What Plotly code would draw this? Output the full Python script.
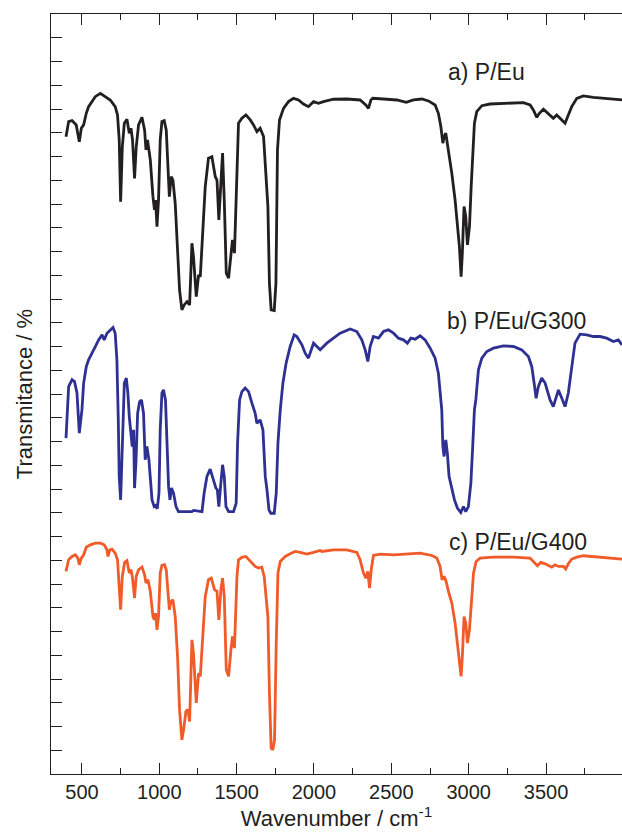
import plotly.graph_objects as go

# ---- data (wavenumber in cm^-1, offset transmittance in tick units) ----
wn_a = [397, 414, 436, 463, 483, 496, 511, 528, 543, 565, 586, 619, 640, 662, 683, 715, 730, 741, 750, 761,
        774, 791, 806, 817, 827, 840, 851, 866, 888, 905, 914, 924, 942, 959, 969, 976, 985, 995, 1006, 1017,
        1032, 1045, 1056, 1065, 1077, 1088, 1103, 1118, 1131, 1146, 1161, 1179, 1196, 1211, 1221, 1239, 1254,
        1265, 1282, 1297, 1318, 1340, 1362, 1373, 1385, 1398, 1409, 1420, 1433, 1448, 1463, 1473, 1486, 1502,
        1512, 1534, 1560, 1588, 1609, 1631, 1652, 1674, 1689, 1702, 1712, 1723, 1743, 1754, 1764, 1777, 1803,
        1835, 1867, 1900, 1932, 1964, 1997, 2029, 2061, 2126, 2212, 2298, 2335, 2352, 2368, 2380, 2449, 2536,
        2596, 2643, 2697, 2740, 2783, 2804, 2820, 2833, 2841, 2852, 2865, 2891, 2912, 2930, 2940, 2951, 2959,
        2970, 2981, 2992, 3005, 3016, 3027, 3037, 3052, 3085, 3138, 3246, 3354, 3397, 3418, 3440, 3457, 3483,
        3515, 3547, 3569, 3591, 3623, 3644, 3666, 3699, 3741, 3806, 3870, 3935, 3991]
tr_a = [26.83, 27.47, 27.51, 27.33, 26.62, 27.19, 27.33, 27.82, 28.10, 28.31, 28.52, 28.66, 28.56, 28.45, 28.38,
        28.10, 27.75, 26.70, 24.10, 26.41, 27.40, 27.57, 26.98, 27.19, 26.70, 25.08, 26.41, 27.33, 27.65, 27.12,
        26.28, 26.70, 25.85, 24.31, 23.75, 24.17, 23.05, 24.17, 26.70, 27.47, 27.51, 27.12, 25.85, 24.31, 25.15,
        25.01, 24.03, 22.21, 20.38, 19.54, 19.75, 19.89, 19.75, 22.35, 21.78, 20.10, 21.01, 20.94, 22.77, 24.73,
        25.93, 25.99, 25.15, 25.01, 23.33, 25.01, 26.14, 24.17, 21.09, 20.88, 21.93, 22.49, 21.93, 25.57, 27.40,
        27.61, 27.75, 27.54, 27.33, 27.05, 27.19, 26.84, 25.29, 23.89, 20.66, 19.54, 19.51, 20.66, 26.28, 27.54,
        28.03, 28.31, 28.45, 28.38, 28.21, 28.10, 28.31, 28.24, 28.31, 28.41, 28.42, 28.38, 28.17, 28.03, 28.38,
        28.45, 28.42, 28.38, 28.28, 28.38, 28.42, 28.34, 28.17, 27.82, 27.26, 26.56, 26.83, 26.98, 26.41, 25.29,
        24.17, 23.05, 22.21, 20.94, 21.93, 23.89, 23.47, 22.28, 23.05, 24.73, 26.28, 27.40, 27.89, 28.14, 28.21,
        28.24, 28.27, 28.17, 27.96, 27.65, 27.82, 27.99, 27.82, 27.61, 27.75, 27.61, 27.40, 27.75, 28.10, 28.45,
        28.55, 28.49, 28.45, 28.41, 28.38]

wn_b = [397, 414, 436, 452, 468, 483, 500, 511, 528, 543, 565, 586, 608, 630, 644, 662, 683, 701, 715, 726, 735,
        741, 750, 759, 774, 787, 797, 806, 817, 825, 834, 840, 849, 860, 873, 885, 898, 909, 920, 933, 953, 967,
        976, 987, 998, 1006, 1017, 1027, 1040, 1049, 1060, 1069, 1079, 1092, 1108, 1124, 1211, 1221, 1276, 1290,
        1308, 1329, 1351, 1366, 1375, 1385, 1396, 1409, 1420, 1431, 1448, 1480, 1497, 1506, 1519, 1534, 1555,
        1577, 1599, 1620, 1631, 1652, 1670, 1685, 1696, 1709, 1721, 1743, 1756, 1767, 1782, 1799, 1820, 1846,
        1872, 1889, 1922, 1943, 1964, 1997, 2040, 2083, 2126, 2169, 2234, 2277, 2309, 2331, 2348, 2363, 2384,
        2417, 2449, 2481, 2514, 2546, 2578, 2604, 2626, 2654, 2686, 2718, 2751, 2783, 2804, 2820, 2826, 2833,
        2841, 2852, 2862, 2873, 2891, 2908, 2927, 2949, 2966, 2981, 2998, 3014, 3027, 3037, 3046, 3063, 3085,
        3117, 3160, 3224, 3289, 3343, 3386, 3408, 3423, 3436, 3450, 3472, 3494, 3526, 3547, 3565, 3580, 3602,
        3623, 3644, 3666, 3687, 3720, 3763, 3806, 3849, 3892, 3935, 3967, 3991]
tr_b = [14.14, 16.31, 16.60, 16.52, 16.04, 14.35, 15.33, 16.46, 17.15, 17.44, 17.72, 18.00, 18.28, 18.49, 18.28,
        18.56, 18.70, 18.80, 18.56, 17.44, 14.91, 12.53, 11.54, 13.23, 16.46, 16.67, 16.04, 15.05, 14.35, 13.79,
        14.49, 12.04, 13.09, 15.19, 15.68, 15.75, 15.19, 13.23, 13.79, 13.23, 11.54, 11.26, 11.30, 11.17, 11.83,
        14.49, 16.04, 16.18, 15.75, 14.35, 12.10, 11.54, 12.04, 11.83, 11.26, 11.05, 11.05, 11.10, 11.05, 11.83,
        12.53, 12.84, 12.39, 12.04, 11.97, 11.26, 12.10, 13.02, 12.53, 11.26, 11.05, 11.05, 11.40, 13.93, 15.75,
        16.10, 16.25, 16.10, 15.61, 15.19, 14.77, 14.91, 14.49, 12.53, 11.97, 11.12, 10.98, 10.98, 11.83, 13.93,
        15.33, 16.46, 17.30, 18.00, 18.49, 18.42, 18.07, 17.72, 17.51, 18.14, 17.86, 18.14, 18.35, 18.56, 18.74,
        18.63, 18.28, 17.86, 17.37, 18.00, 18.42, 18.35, 18.63, 18.70, 18.56, 18.35, 18.28, 18.14, 18.35, 18.31,
        18.45, 18.28, 17.93, 17.51, 16.88, 15.75, 15.33, 13.79, 13.37, 14.07, 13.51, 12.53, 11.97, 11.54, 11.20,
        11.01, 11.26, 11.05, 11.26, 12.25, 13.93, 15.33, 15.75, 17.02, 17.51, 17.79, 17.93, 18.03, 18.00, 17.86,
        17.58, 17.15, 16.46, 15.82, 16.31, 16.67, 16.46, 15.75, 15.47, 15.89, 16.17, 15.82, 15.47, 16.04, 17.15,
        18.14, 18.52, 18.49, 18.42, 18.42, 18.35, 18.21, 18.28, 18.07]

wn_c = [397, 414, 436, 457, 474, 483, 496, 511, 528, 554, 586, 619, 644, 662, 668, 681, 694, 715, 730, 741, 750,
        761, 776, 791, 806, 817, 827, 840, 851, 866, 888, 905, 914, 927, 942, 959, 969, 976, 985, 995, 1006,
        1017, 1034, 1045, 1056, 1065, 1075, 1088, 1103, 1118, 1131, 1146, 1157, 1172, 1185, 1196, 1211, 1221,
        1239, 1254, 1265, 1282, 1297, 1318, 1336, 1357, 1373, 1385, 1398, 1409, 1420, 1433, 1448, 1463, 1473,
        1486, 1502, 1512, 1534, 1560, 1588, 1620, 1641, 1663, 1678, 1689, 1702, 1712, 1723, 1734, 1745, 1756,
        1767, 1782, 1814, 1846, 1878, 1911, 1954, 1997, 2040, 2051, 2126, 2212, 2277, 2298, 2320, 2335, 2348,
        2359, 2370, 2384, 2428, 2514, 2600, 2686, 2762, 2794, 2815, 2828, 2841, 2854, 2869, 2891, 2912, 2927,
        2940, 2951, 2959, 2970, 2981, 2992, 3005, 3018, 3031, 3048, 3074, 3160, 3289, 3397, 3425, 3444, 3466,
        3494, 3537, 3558, 3580, 3612, 3627, 3644, 3666, 3699, 3741, 3806, 3870, 3935, 3991]
tr_c = [8.53, 9.02, 9.16, 9.23, 9.09, 8.81, 9.09, 9.23, 9.55, 9.65, 9.72, 9.72, 9.65, 9.44, 9.16, 9.44, 9.47,
        9.30, 9.02, 8.04, 6.92, 8.32, 8.91, 8.98, 8.46, 8.60, 8.25, 7.41, 8.32, 8.60, 8.71, 8.39, 8.04, 8.18,
        7.69, 6.63, 6.49, 6.77, 6.07, 6.63, 8.46, 8.78, 8.81, 8.60, 7.76, 6.92, 7.26, 7.34, 6.63, 4.95, 2.71,
        1.44, 1.86, 2.63, 2.71, 2.21, 5.65, 5.09, 2.99, 4.25, 4.11, 6.21, 7.47, 8.18, 8.25, 7.76, 7.69, 6.49,
        7.76, 8.25, 7.47, 4.39, 4.11, 5.23, 5.79, 5.30, 8.32, 9.02, 9.12, 9.16, 8.95, 8.74, 8.67, 8.71, 8.32,
        7.62, 6.63, 3.41, 1.09, 1.02, 1.44, 5.51, 8.46, 8.95, 9.16, 9.27, 9.37, 9.33, 9.26, 9.33, 9.41, 9.37,
        9.44, 9.44, 9.33, 9.02, 8.46, 8.25, 8.53, 7.83, 8.60, 9.20, 9.26, 9.23, 9.27, 9.30, 9.20, 9.09, 8.74,
        8.18, 8.32, 8.11, 7.69, 7.20, 6.36, 5.51, 4.67, 4.11, 4.95, 6.63, 6.36, 5.51, 6.07, 7.47, 8.46, 8.95,
        9.09, 9.13, 9.13, 9.09, 8.88, 8.77, 8.91, 8.85, 8.71, 8.81, 8.74, 8.74, 8.63, 8.85, 9.05, 9.13, 9.19,
        9.16, 9.13, 9.09, 9.05]

labels = ["a) P/Eu", "b) P/Eu/G300", "c) P/Eu/G400"]
label_x = [2854, 2850, 2858]
label_y = [29.56, 19.07, 9.75]
colors = ["#231f20", "#2e3192", "#f15a29"]

x_tickvals = [500, 1000, 1500, 2000, 2500, 3000, 3500]
x_minor = [750, 1250, 1750, 2250, 2750, 3250, 3750]
x_range = [300, 3991]
y_range = [0, 32]

fig = go.Figure()
for wn, tr, col in zip([wn_a, wn_b, wn_c], [tr_a, tr_b, tr_c], colors):
    fig.add_trace(go.Scatter(x=wn, y=tr, mode="lines", line=dict(color=col, width=2.8),
                             showlegend=False, hoverinfo="skip"))

for txt, lx, ly in zip(labels, label_x, label_y):
    fig.add_annotation(x=lx, y=ly, xref="x", yref="y", text=txt, showarrow=False,
                       xanchor="left", yanchor="middle",
                       font=dict(family="Liberation Sans, Arial, sans-serif", size=23, color="#231f20"))

axis_col = "#231f20"
fig.update_layout(
    width=622, height=834,
    margin=dict(l=51, r=0, t=14, b=60),
    paper_bgcolor="white", plot_bgcolor="white",
    font=dict(family="Liberation Sans, Arial, sans-serif", color="#231f20"),
    xaxis=dict(range=x_range, tickvals=x_tickvals, ticks="inside", ticklen=11, tickwidth=1.2,
               tickcolor=axis_col, showline=True, linecolor=axis_col, linewidth=1.3, mirror="ticks",
               showgrid=False, zeroline=False, tickfont=dict(size=20),
               minor=dict(tickvals=x_minor, ticks="inside",
                          ticklen=6, tickwidth=1.2, tickcolor=axis_col, showgrid=False),
               title=dict(text="Wavenumber / cm<sup>-1</sup>", font=dict(size=22), standoff=8)),
    xaxis2=dict(range=x_range, tickvals=x_minor, ticks="inside", ticklen=6, tickwidth=1.2,
                tickcolor=axis_col, showline=False, overlaying="x", side="top",
                showgrid=False, zeroline=False, showticklabels=False),
    yaxis=dict(range=y_range, dtick=1, tick0=0, ticks="inside", ticklen=11, tickwidth=1.2,
               tickcolor=axis_col, showline=True, linecolor=axis_col, linewidth=1.3, mirror=False,
               showgrid=False, zeroline=False, showticklabels=False,
               title=dict(text="Transmitance / %", font=dict(size=22), standoff=11)),
    yaxis2=dict(range=y_range, dtick=1, tick0=0, ticks="inside", ticklen=10, tickwidth=1.2,
                tickcolor=axis_col, showline=False, overlaying="y", side="right",
                showgrid=False, zeroline=False, showticklabels=False),
)

fig.write_html("out.html")
